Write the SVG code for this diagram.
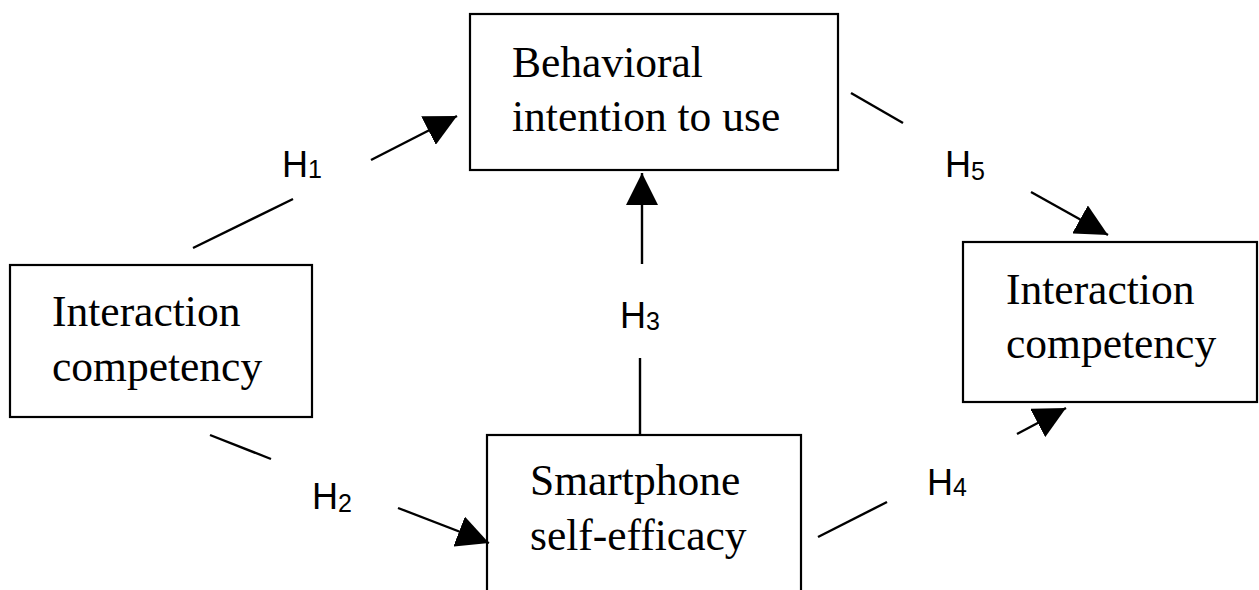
<svg xmlns="http://www.w3.org/2000/svg" width="1259" height="590" viewBox="0 0 1259 590">
<style>
.box{fill:#fff;stroke:#000;stroke-width:2.2}
.t{font-family:"Liberation Serif","Times New Roman",serif;font-size:43.5px;fill:#000}
.h{font-family:"Liberation Sans",Arial,sans-serif;font-size:36px;fill:#000}
.d{font-size:25px}
.c{stroke:#000;stroke-width:2.4;fill:none}
</style>
<defs>
<marker id="ah" viewBox="0 0 10 10" refX="10" refY="5" markerWidth="32" markerHeight="32" markerUnits="userSpaceOnUse" orient="auto">
<path d="M0,0 L10,5 L0,10 z" fill="#000"/>
</marker>
</defs>
<rect width="1259" height="590" fill="#fff"/>
<g id="node-behavioral">
<rect class="box" x="470" y="14" width="368" height="156"/>
<text class="t" x="512" y="77">Behavioral</text>
<text class="t" x="512" y="131">intention to use</text>
</g>
<g id="node-interaction-left">
<rect class="box" x="10" y="265" width="302" height="152"/>
<text class="t" x="52" y="326">Interaction</text>
<text class="t" x="52" y="381">competency</text>
</g>
<g id="node-smartphone">
<rect class="box" x="487" y="435" width="314" height="170"/>
<text class="t" x="530" y="495">Smartphone</text>
<text class="t" x="530" y="550">self-efficacy</text>
</g>
<g id="node-interaction-right">
<rect class="box" x="963" y="242" width="294" height="160"/>
<text class="t" x="1006" y="304">Interaction</text>
<text class="t" x="1006" y="358">competency</text>
</g>
<g id="connectors">
<line class="c" x1="193" y1="248" x2="293" y2="199"/>
<line class="c" x1="371" y1="160" x2="457" y2="116" marker-end="url(#ah)"/>
<line class="c" x1="210" y1="435" x2="271" y2="459"/>
<line class="c" x1="398" y1="508" x2="489" y2="543" marker-end="url(#ah)"/>
<line class="c" x1="640" y1="434" x2="640" y2="358"/>
<line class="c" x1="642" y1="264" x2="642" y2="173" marker-end="url(#ah)"/>
<line class="c" x1="818" y1="537" x2="887" y2="502"/>
<line class="c" x1="1017" y1="434" x2="1066" y2="408" marker-end="url(#ah)"/>
<line class="c" x1="851" y1="93" x2="903" y2="123"/>
<line class="c" x1="1031" y1="192" x2="1108" y2="235" marker-end="url(#ah)"/>
<text class="h" x="282" y="177">H<tspan class="d" dy="1">1</tspan></text>
<text class="h" x="312" y="509">H<tspan class="d" dy="3">2</tspan></text>
<text class="h" x="620" y="328">H<tspan class="d" dy="2">3</tspan></text>
<text class="h" x="927" y="495">H<tspan class="d" dy="1">4</tspan></text>
<text class="h" x="945" y="177">H<tspan class="d" dy="3">5</tspan></text>
</g>
</svg>
